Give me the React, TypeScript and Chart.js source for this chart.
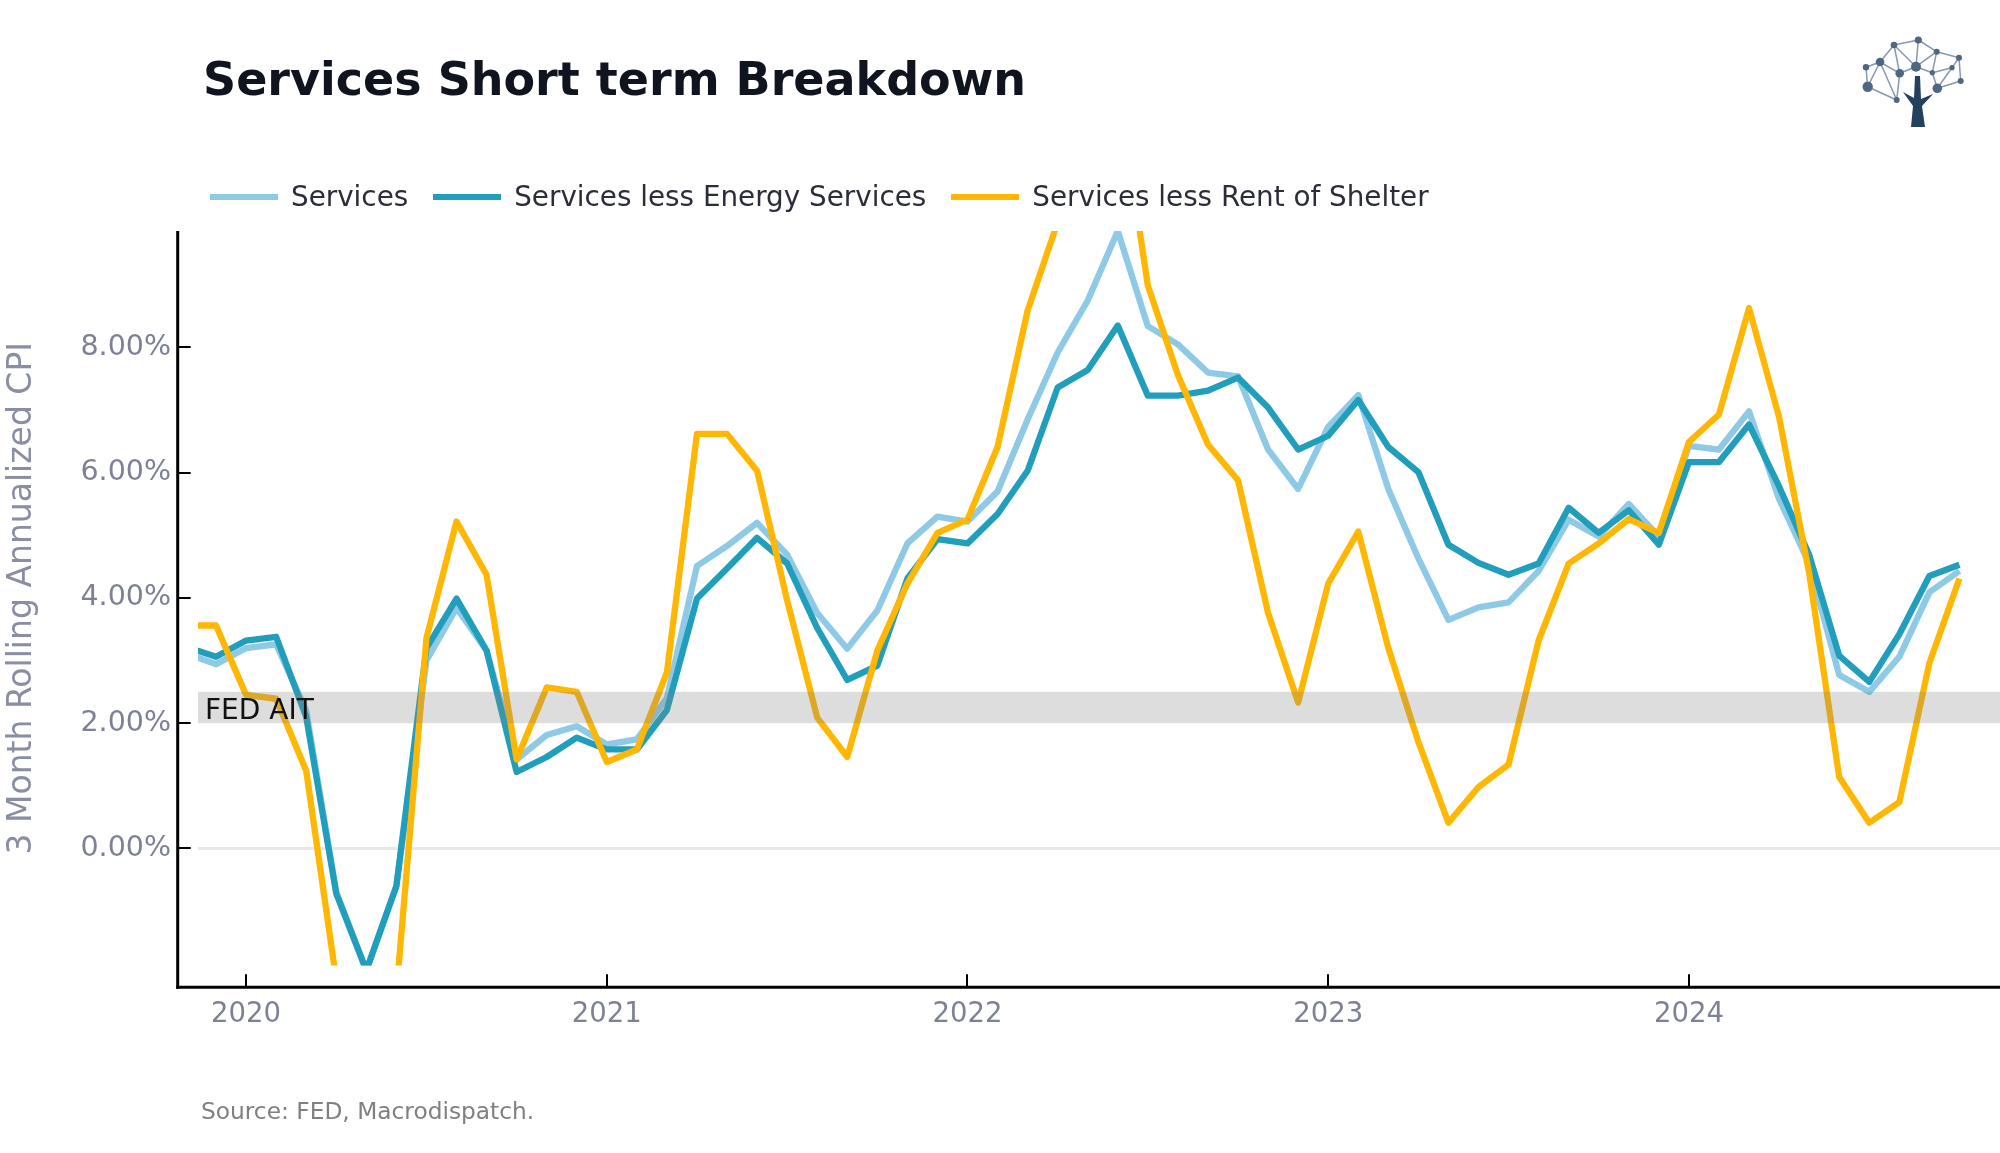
import React, { useEffect, useRef } from 'react';
import { Chart, registerables } from 'chart.js';

Chart.register(...registerables);

// ---------------- data ----------------
const MONTHS = [
  '2019-11', '2019-12', '2020-01', '2020-02', '2020-03', '2020-04', '2020-05', '2020-06', '2020-07', '2020-08', '2020-09', '2020-10',
  '2020-11', '2020-12', '2021-01', '2021-02', '2021-03', '2021-04', '2021-05', '2021-06', '2021-07', '2021-08', '2021-09', '2021-10',
  '2021-11', '2021-12', '2022-01', '2022-02', '2022-03', '2022-04', '2022-05', '2022-06', '2022-07', '2022-08', '2022-09', '2022-10',
  '2022-11', '2022-12', '2023-01', '2023-02', '2023-03', '2023-04', '2023-05', '2023-06', '2023-07', '2023-08', '2023-09', '2023-10',
  '2023-11', '2023-12', '2024-01', '2024-02', '2024-03', '2024-04', '2024-05', '2024-06', '2024-07', '2024-08', '2024-09', '2024-10',
];

const SERVICES = [
  3.12, 2.94, 3.2, 3.26, 2.2, -0.7, -1.95, -0.6, 3.0, 3.84, 3.16, 1.42,
  1.81, 1.95, 1.66, 1.74, 2.4, 4.51, 4.83, 5.2, 4.69, 3.76, 3.19, 3.8,
  4.87, 5.3, 5.22, 5.7, 6.85, 7.92, 8.75, 9.86, 8.34, 8.05, 7.6, 7.54,
  6.37, 5.74, 6.73, 7.24, 5.74, 4.63, 3.65, 3.85, 3.93, 4.43, 5.25, 4.98,
  5.5, 4.98, 6.43, 6.37, 6.98, 5.58, 4.55, 2.77, 2.5, 3.06, 4.09, 4.43,
];

const SERVICES_LESS_ENERGY = [
  3.22, 3.06, 3.32, 3.38, 2.1, -0.72, -1.95, -0.6, 3.2, 3.99, 3.16, 1.22,
  1.46, 1.77, 1.58, 1.58, 2.21, 3.99, 4.47, 4.96, 4.55, 3.52, 2.69, 2.92,
  4.31, 4.94, 4.87, 5.34, 6.03, 7.36, 7.64, 8.35, 7.23, 7.23, 7.31, 7.52,
  7.04, 6.37, 6.59, 7.16, 6.41, 6.01, 4.85, 4.56, 4.37, 4.55, 5.44, 5.04,
  5.4, 4.85, 6.17, 6.17, 6.77, 5.78, 4.69, 3.08, 2.66, 3.42, 4.35, 4.53,
];

const SERVICES_LESS_RENT = [
  3.56, 3.56, 2.45, 2.39, 1.24, -2.1, -5.0, -2.3, 3.36, 5.22, 4.37, 1.42,
  2.57, 2.5, 1.38, 1.58, 2.81, 6.62, 6.62, 6.03, 3.96, 2.09, 1.46, 3.16,
  4.23, 5.04, 5.25, 6.41, 8.59, 10.0, 11.5, 12.2, 8.99, 7.56, 6.45, 5.88,
  3.76, 2.33, 4.23, 5.06, 3.2, 1.7, 0.41, 0.98, 1.34, 3.32, 4.55, 4.87,
  5.26, 5.04, 6.49, 6.93, 8.63, 6.89, 4.4, 1.14, 0.41, 0.74, 2.96, 4.31,
];

const SERIES_NAMES = ['Services', 'Services less Energy Services', 'Services less Rent of Shelter'];
const SERIES_COLORS = ['#8ECAE6', '#219EBC', '#FFB703'];

const X_TICK_LABELS = ['2020', '2021', '2022', '2023', '2024'];
const Y_TICKS = [0, 2, 4, 6, 8];
const Y_RANGE = [-1.87, 9.86];
const X_RANGE = [-1.6, 58.35];
const FED_BAND = [2.0, 2.5];
const FED_LABEL = 'FED AIT';

const TITLE = 'Services Short term Breakdown';
const Y_TITLE = '3 Month Rolling Annualized CPI';
const SOURCE = 'Source: FED, Macrodispatch.';

// ---------------- helpers ----------------
const FONT = '"DejaVu Sans", Verdana, sans-serif';
const TICK_COLOR = '#7d8196';

function monthIndex(s: string): number {
  const [y, m] = s.split('-').map(Number);
  return (y - 2020) * 12 + (m - 1);
}

function toPoints(values: number[]) {
  return values.map((v, i) => ({ x: monthIndex(MONTHS[i]), y: v }));
}

const W = 2000;
const H = 1153;
const AREA_LEFT = 198;
const AREA_TOP = 231;
const AREA_BOTTOM = 965.5;

const decorPlugin = {
  id: 'decor',
  afterDatasetsDraw(chart: any) {
    const { ctx, chartArea, scales } = chart;
    const x = scales.x;
    const y = scales.y;
    ctx.save();
    // FED band drawn over the lines (semi-transparent)
    const yTop = y.getPixelForValue(FED_BAND[1]);
    const yBot = y.getPixelForValue(FED_BAND[0]);
    ctx.fillStyle = 'rgba(128,128,128,0.27)';
    ctx.fillRect(chartArea.left, yTop, chartArea.right - chartArea.left, yBot - yTop);

    // offset spines
    const spineX = chartArea.left - 20.3;
    const spineY = chartArea.bottom + 21.8;
    ctx.strokeStyle = '#000';
    ctx.lineWidth = 3;
    ctx.beginPath();
    ctx.moveTo(spineX, chartArea.top);
    ctx.lineTo(spineX, spineY + 1.5);
    ctx.stroke();
    ctx.beginPath();
    ctx.moveTo(spineX - 1.5, spineY);
    ctx.lineTo(chart.width, spineY);
    ctx.stroke();

    // inward tick marks
    ctx.lineWidth = 2;
    ctx.beginPath();
    y.ticks.forEach((t: any) => {
      const py = Math.round(y.getPixelForValue(t.value));
      ctx.moveTo(spineX, py);
      ctx.lineTo(spineX + 13, py);
    });
    x.ticks.forEach((t: any) => {
      const px = Math.round(x.getPixelForValue(t.value));
      ctx.moveTo(px, spineY);
      ctx.lineTo(px, spineY - 13);
    });
    ctx.stroke();

    // band label
    ctx.fillStyle = '#111111';
    ctx.font = `28px ${FONT}`;
    ctx.textBaseline = 'alphabetic';
    ctx.textAlign = 'left';
    ctx.fillText(FED_LABEL, chartArea.left + 7, yBot - 4.5);
    ctx.restore();
  },
};

const LOGO_NODES: [number, number, number][] = [
  [1867.7, 86.7, 5.2], [1866, 67.3, 3.2], [1880, 62, 4.3], [1894, 45, 3.3], [1918.3, 40, 3.6],
  [1899.7, 73.3, 4.3], [1916, 66.7, 5], [1936.7, 51.7, 3], [1959, 57.7, 3], [1952, 67.7, 2.6],
  [1932.3, 72.7, 2.6], [1960.7, 81, 3], [1937.3, 88.3, 4.8], [1896.7, 100, 3],
];
const LOGO_EDGES: [number, number][] = [
  [0, 1], [1, 2], [2, 3], [3, 4], [3, 6], [4, 6], [4, 7], [7, 8], [8, 11], [7, 10], [10, 9], [9, 8],
  [9, 12], [11, 12], [2, 5], [5, 6], [6, 7], [2, 0], [0, 13], [2, 13], [5, 13], [6, 10], [10, 12], [3, 5],
];

function Logo() {
  return (
    <svg width={W} height={H} style={{ position: 'absolute', left: 0, top: 0, pointerEvents: 'none' }}>
      <g stroke="#8797ad" strokeWidth={1.5}>
        {LOGO_EDGES.map(([a, b], i) => (
          <line key={i} x1={LOGO_NODES[a][0]} y1={LOGO_NODES[a][1]} x2={LOGO_NODES[b][0]} y2={LOGO_NODES[b][1]} />
        ))}
      </g>
      <g fill="#4d6682">
        {LOGO_NODES.map(([cx, cy, r], i) => (
          <circle key={i} cx={cx} cy={cy} r={r} />
        ))}
      </g>
      <polygon
        fill="#23405f"
        points="1911,127 1925,127 1922,106 1933,94 1921,99 1920,76 1915,76 1914,98 1903,92 1913,106"
      />
    </svg>
  );
}

export default function App() {
  const canvasRef = useRef<HTMLCanvasElement | null>(null);

  useEffect(() => {
    document.body.style.margin = '0';
    document.body.style.overflow = 'hidden';
    const canvas = canvasRef.current;
    if (!canvas) return;
    const seriesValues = [SERVICES, SERVICES_LESS_ENERGY, SERVICES_LESS_RENT];
    const chart = new Chart(canvas, {
      type: 'line',
      data: {
        datasets: seriesValues.map((vals, i) => ({
          label: SERIES_NAMES[i],
          data: toPoints(vals),
          borderColor: SERIES_COLORS[i],
          backgroundColor: SERIES_COLORS[i],
          borderWidth: 6.3,
          pointRadius: 0,
          tension: 0,
          fill: false,
          clip: 0,
          borderJoinStyle: 'round',
          borderCapStyle: 'butt',
          order: 3 - i,
        })),
      },
      options: {
        responsive: false,
        animation: false,
        devicePixelRatio: 1,
        layout: { padding: { left: 0, right: 0, top: AREA_TOP, bottom: 0 } },
        plugins: {
          legend: { display: false },
          tooltip: { enabled: false },
          title: { display: false },
        },
        scales: {
          x: {
            type: 'linear',
            min: X_RANGE[0],
            max: X_RANGE[1],
            afterFit: (s: any) => {
              s.height = H - AREA_BOTTOM;
            },
            afterBuildTicks: (s: any) => {
              s.ticks = X_TICK_LABELS.map((_, i) => ({ value: i * 12 }));
            },
            border: { display: false },
            grid: { display: false },
            ticks: {
              autoSkip: false,
              maxRotation: 0,
              minRotation: 0,
              padding: 25,
              color: TICK_COLOR,
              font: { family: FONT, size: 27.5 },
              callback: (v: any) => X_TICK_LABELS[Math.round(Number(v) / 12)] ?? '',
            },
          },
          y: {
            type: 'linear',
            min: Y_RANGE[0],
            max: Y_RANGE[1],
            afterFit: (s: any) => {
              s.width = AREA_LEFT;
            },
            afterBuildTicks: (s: any) => {
              s.ticks = Y_TICKS.map((v) => ({ value: v }));
            },
            border: { display: false },
            grid: {
              drawTicks: false,
              lineWidth: 3,
              color: (c: any) => (c.tick && c.tick.value === 0 ? '#e8e8e8' : 'rgba(0,0,0,0)'),
            },
            ticks: {
              padding: 27,
              color: TICK_COLOR,
              font: { family: FONT, size: 28.5 },
              callback: (v: any) => Number(v).toFixed(2) + '%',
            },
            title: {
              display: true,
              text: Y_TITLE,
              color: '#8a8ea2',
              font: { family: FONT, size: 33 },
              padding: { top: 3, bottom: 0 },
            },
          },
        },
      },
      plugins: [decorPlugin],
    } as any);
    return () => chart.destroy();
  }, []);

  return (
    <div style={{ position: 'absolute', left: 0, top: 0, width: W, height: H, background: '#fff', overflow: 'hidden' }}>
      <canvas ref={canvasRef} width={W} height={H} style={{ position: 'absolute', left: 0, top: 0, width: W, height: H, display: 'block' }} />
      <div
        style={{
          position: 'absolute', left: 203, top: 55.5, fontFamily: FONT, fontWeight: 'bold', fontSize: 46,
          lineHeight: '46px', color: '#10141f', whiteSpace: 'nowrap',
        }}
      >
        {TITLE}
      </div>
      <div
        style={{
          position: 'absolute', left: 210, top: 183.4, display: 'flex', alignItems: 'center', fontFamily: FONT,
          fontSize: 27.8, lineHeight: '27.8px', color: '#2c2d3a', whiteSpace: 'nowrap',
        }}
      >
        {SERIES_NAMES.map((name, i) => (
          <div key={name} style={{ display: 'flex', alignItems: 'center', marginRight: 25 }}>
            <div style={{ width: 68, height: 6, background: SERIES_COLORS[i], marginRight: 13 }} />
            <span>{name}</span>
          </div>
        ))}
      </div>
      <div
        style={{
          position: 'absolute', left: 201, top: 1098.8, fontFamily: FONT, fontSize: 23.3, lineHeight: '23.3px',
          color: '#808080', whiteSpace: 'nowrap',
        }}
      >
        {SOURCE}
      </div>
      <Logo />
    </div>
  );
}
